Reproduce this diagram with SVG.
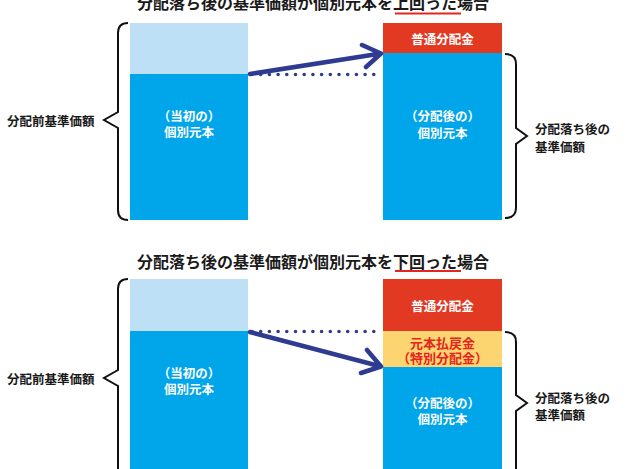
<svg xmlns="http://www.w3.org/2000/svg" width="630" height="469" viewBox="0 0 630 469">
<style>
text{font-family:"Noto Sans CJK JP","Noto Sans CJK SC",sans-serif;font-weight:bold;dominant-baseline:central}
.title{font-size:16px;fill:#1a1a1a;text-anchor:middle}
.lbl{font-size:12.5px;fill:#1a1a1a}
.w{font-size:12.5px;fill:#fff;text-anchor:middle}
.r{font-size:13px;fill:#e6231f;text-anchor:middle}
.brace{fill:none;stroke:#111;stroke-width:2}
.arrow{fill:none;stroke:#2e3b90;stroke-width:4.5;stroke-linecap:round;stroke-linejoin:round}
.dots{fill:none;stroke:#2e3b90;stroke-width:3.6;stroke-linecap:round;stroke-dasharray:0 8.7}
.ul{stroke:#e6231f;stroke-width:2}
</style>
<rect width="630" height="469" fill="#fff"/>
<!-- top panel -->
<g id="title1"><text class="title" x="313" y="2">分配落ち後の基準価額が個別元本を上回った場合</text><line class="ul" x1="395" y1="13.5" x2="461" y2="13.5"/></g>
<g id="bar1-left">
<rect x="130" y="23" width="118" height="51" fill="#bee0f7"/>
<rect x="130" y="74" width="118" height="146" fill="#00a6e9"/>
<text class="w" x="189" y="115">（当初の）</text>
<text class="w" x="189" y="131">個別元本</text>
</g>
<g id="bar1-right">
<rect x="383" y="23" width="119" height="30" fill="#e23a22"/>
<text class="w" x="442.5" y="38">普通分配金</text>
<rect x="383" y="53" width="119" height="167" fill="#00a6e9"/>
<text class="w" x="442.5" y="115">（分配後の）</text>
<text class="w" x="442.5" y="132">個別元本</text>
</g>
<g id="brace1-left"><path class="brace" d="M128,23 Q118,23 118,33 L118,112 L104,120 L118,128 L118,210 Q118,220 128,220"/><text class="lbl" x="7" y="120">分配前基準価額</text></g>
<g id="brace1-right"><path class="brace" d="M505,54 Q516,54 516,64 L516,128 L527,136 L516,144 L516,208 Q516,218 505,218"/><text class="lbl" x="535" y="128">分配落ち後の</text><text class="lbl" x="535" y="146">基準価額</text></g>
<!-- bottom panel -->
<g id="title2"><text class="title" x="313" y="260.5">分配落ち後の基準価額が個別元本を下回った場合</text><line class="ul" x1="395" y1="271" x2="461" y2="271"/></g>
<g id="bar2-left">
<rect x="130" y="279" width="118" height="52" fill="#bee0f7"/>
<rect x="130" y="331" width="118" height="140" fill="#00a6e9"/>
<text class="w" x="189" y="372">（当初の）</text>
<text class="w" x="189" y="388">個別元本</text>
</g>
<g id="bar2-right">
<rect x="383" y="279" width="119" height="52" fill="#e23a22"/>
<text class="w" x="442.5" y="305">普通分配金</text>
<rect x="383" y="331" width="119" height="36" fill="#fcd570"/>
<text class="r" x="442.5" y="342">元本払戻金</text>
<text class="r" x="442.5" y="357">（特別分配金）</text>
<rect x="383" y="367" width="119" height="104" fill="#00a6e9"/>
<text class="w" x="442.5" y="402">（分配後の）</text>
<text class="w" x="442.5" y="418">個別元本</text>
</g>
<g id="brace2-left"><path class="brace" d="M128,279 Q118,279 118,289 L118,370 L104,378 L118,386 L118,471"/><text class="lbl" x="7" y="378">分配前基準価額</text></g>
<g id="brace2-right"><path class="brace" d="M505,332 Q516,332 516,342 L516,395 L527,403 L516,411 L516,471"/><text class="lbl" x="535" y="397">分配落ち後の</text><text class="lbl" x="535" y="414">基準価額</text></g>
<g id="connectors">
<line class="dots" x1="252" y1="74.5" x2="382" y2="74.5"/>
<path class="arrow" d="M250,74 L381,53.5 M362,45 L381,53.5 L366,67"/>
<line class="dots" x1="252" y1="331.5" x2="382" y2="331.5"/>
<path class="arrow" d="M250,332 L381,366.5 M367,350 L381,366.5 L361,373"/>
</g>
</svg>
